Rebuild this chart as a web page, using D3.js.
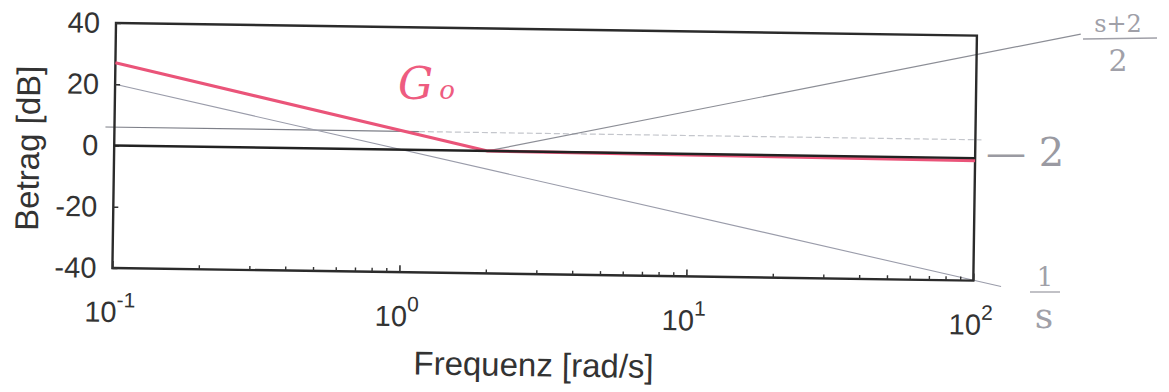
<!DOCTYPE html>
<html><head><meta charset="utf-8">
<script src="https://cdn.jsdelivr.net/npm/d3@7"></script>
<style>
html,body{margin:0;padding:0;background:#fff;}
svg{display:block;}
</style></head>
<body>
<svg id="c" width="1169" height="392"></svg>
<script>
// ---- data ----
const xDomain = [0.1, 100];
const yDomain = [-40, 40];
const yTicks = [-40, -20, 0, 20, 40];
const xDecades = [0.1, 1, 10, 100];
const xTickExponents = ["-1", "0", "1", "2"];
const xLabel = "Frequenz [rad/s]";
const yLabel = "Betrag [dB]";

// printed 0 dB line
const zeroLineFreq = [0.1, 100];
const zeroLineMag  = [0, 0];
// G0 (red, handwritten)
const g0Freq = [0.1, 2, 100];
const g0Mag  = [27, 0, -0.8];
// 1/s asymptote
const intFreq = [0.1, 125];
const intMag  = [20, -41.8];
// (s+2)/2 asymptote
const zeroFreq = [2, 230];
const zeroMag  = [0, 41];
// constant gain 2 (6 dB)
const gainFreqSolid = [0.093, 1.15];
const gainMagSolid  = [6, 6];
const gainFreqFaint = [1.15, 105];
const gainMagFaint  = [6, 6];

// ---- layout ----
const W = 861, H = 245;
const angle = 0.84; // scan rotation (deg)
const svg = d3.select("#c");
const g = svg.append("g").attr("transform", `translate(116,23) rotate(${angle})`);

const x = d3.scaleLog().domain(xDomain).range([0, W]);
const y = d3.scaleLinear().domain(yDomain).range([H, 0]);
const line = d3.line().x(d => x(d[0])).y(d => y(d[1]));
const pts = (f, m) => f.map((v, i) => [v, m[i]]);

// asymptote lines (pencil)
g.append("path").attr("d", line(pts(gainFreqFaint, gainMagFaint)))
  .attr("fill", "none").attr("stroke", "#c4c6cc").attr("stroke-width", 1.2).attr("stroke-dasharray", "6,3");
g.append("path").attr("d", line(pts(gainFreqSolid, gainMagSolid)))
  .attr("fill", "none").attr("stroke", "#7d7f88").attr("stroke-width", 1.2);
g.append("path").attr("d", line(pts(intFreq, intMag)))
  .attr("fill", "none").attr("stroke", "#9a9caa").attr("stroke-width", 1.1);
g.append("path").attr("d", line(pts(zeroFreq, zeroMag)))
  .attr("fill", "none").attr("stroke", "#8c8e96").attr("stroke-width", 1.2);

// frame
g.append("rect").attr("x", 0).attr("y", 0).attr("width", W).attr("height", H)
  .attr("fill", "none").attr("stroke", "#2b2b2b").attr("stroke-width", 2.4);

// axis ticks (inward)
const minor = [];
for (let d = 0; d < 3; d++) for (let k = 2; k <= 9; k++) minor.push(xDecades[d] * k);
g.append("g").attr("transform", `translate(0,${H})`)
  .call(d3.axisBottom(x).tickValues(minor).tickSize(-4).tickFormat(""))
  .call(a => a.select(".domain").remove())
  .selectAll("line").attr("stroke", "#333").attr("stroke-width", 1.4);
g.append("g").attr("transform", `translate(0,${H})`)
  .call(d3.axisBottom(x).tickValues(xDecades).tickSize(-7).tickFormat(""))
  .call(a => a.select(".domain").remove())
  .selectAll("line").attr("stroke", "#333").attr("stroke-width", 1.6);
g.append("g")
  .call(d3.axisLeft(y).tickValues(yTicks).tickSize(-5).tickFormat(""))
  .call(a => a.select(".domain").remove())
  .selectAll("line").attr("stroke", "#333").attr("stroke-width", 1.4);

// y tick labels
g.selectAll(".ytl").data(yTicks).join("text")
  .attr("x", -16).attr("y", d => y(d) + 10)
  .attr("text-anchor", "end").attr("font-family", "Liberation Sans, Arial, sans-serif")
  .attr("font-size", 29).attr("fill", "#333").text(d => d);

// x tick labels 10^n
const xl = g.selectAll(".xtl").data(xDecades).join("text")
  .attr("x", d => x(d) - 2).attr("y", H + 54)
  .attr("text-anchor", "middle").attr("font-family", "Liberation Sans, Arial, sans-serif")
  .attr("font-size", 29).attr("fill", "#333");
xl.append("tspan").text("10");
xl.append("tspan").attr("dy", -15).attr("font-size", 21).text((d, i) => xTickExponents[i]);

// axis titles
g.append("text").attr("x", W / 2 - 8).attr("y", H + 102)
  .attr("text-anchor", "middle").attr("font-family", "Liberation Sans, Arial, sans-serif")
  .attr("font-size", 33).attr("fill", "#333").text(xLabel);
g.append("text").attr("transform", `translate(-75,${H / 2 + 4}) rotate(-90)`)
  .attr("text-anchor", "middle").attr("font-family", "Liberation Sans, Arial, sans-serif")
  .attr("font-size", 33).attr("fill", "#333").text(yLabel);

// printed 0 dB line and G0
g.append("path").attr("d", line(pts(g0Freq, g0Mag)))
  .attr("fill", "none").attr("stroke", "#ea5479").attr("stroke-width", 3.2).attr("stroke-linejoin", "round");
g.append("path").attr("d", line(pts(zeroLineFreq, zeroLineMag)))
  .attr("fill", "none").attr("stroke", "#222").attr("stroke-width", 2.4);

// handwritten annotations (image coordinates)
const hand = "DejaVu Serif, serif";
const G0 = svg.append("text").attr("x", 398).attr("y", 99)
  .attr("font-family", hand).attr("font-style", "italic").attr("font-size", 44)
  .attr("fill", "#ee5c80").attr("font-weight", 300);
G0.append("tspan").text("G");
G0.append("tspan").attr("font-size", 26).attr("dx", 6).text("o");

svg.append("text").attr("x", 1118).attr("y", 32).attr("text-anchor", "middle")
  .attr("font-family", hand).attr("font-size", 24).attr("fill", "#a0a0a8").text("s+2");
svg.append("line").attr("x1", 1083).attr("x2", 1157).attr("y1", 39).attr("y2", 38)
  .attr("stroke", "#a0a0a8").attr("stroke-width", 1.3);
svg.append("text").attr("x", 1118).attr("y", 71).attr("text-anchor", "middle")
  .attr("font-family", hand).attr("font-size", 30).attr("fill", "#a0a0a8").text("2");

svg.append("text").attr("x", 986).attr("y", 166)
  .attr("font-family", hand).attr("font-size", 40).attr("fill", "#9a9aa2").text("— 2");

svg.append("text").attr("x", 1045).attr("y", 286).attr("text-anchor", "middle")
  .attr("font-family", hand).attr("font-size", 26).attr("fill", "#a0a0a8").text("1");
svg.append("line").attr("x1", 1030).attr("x2", 1060).attr("y1", 292).attr("y2", 292)
  .attr("stroke", "#a0a0a8").attr("stroke-width", 1.3);
svg.append("text").attr("x", 1044).attr("y", 328).attr("text-anchor", "middle")
  .attr("font-family", hand).attr("font-size", 36).attr("fill", "#a0a0a8").text("s");
</script>
</body></html>
